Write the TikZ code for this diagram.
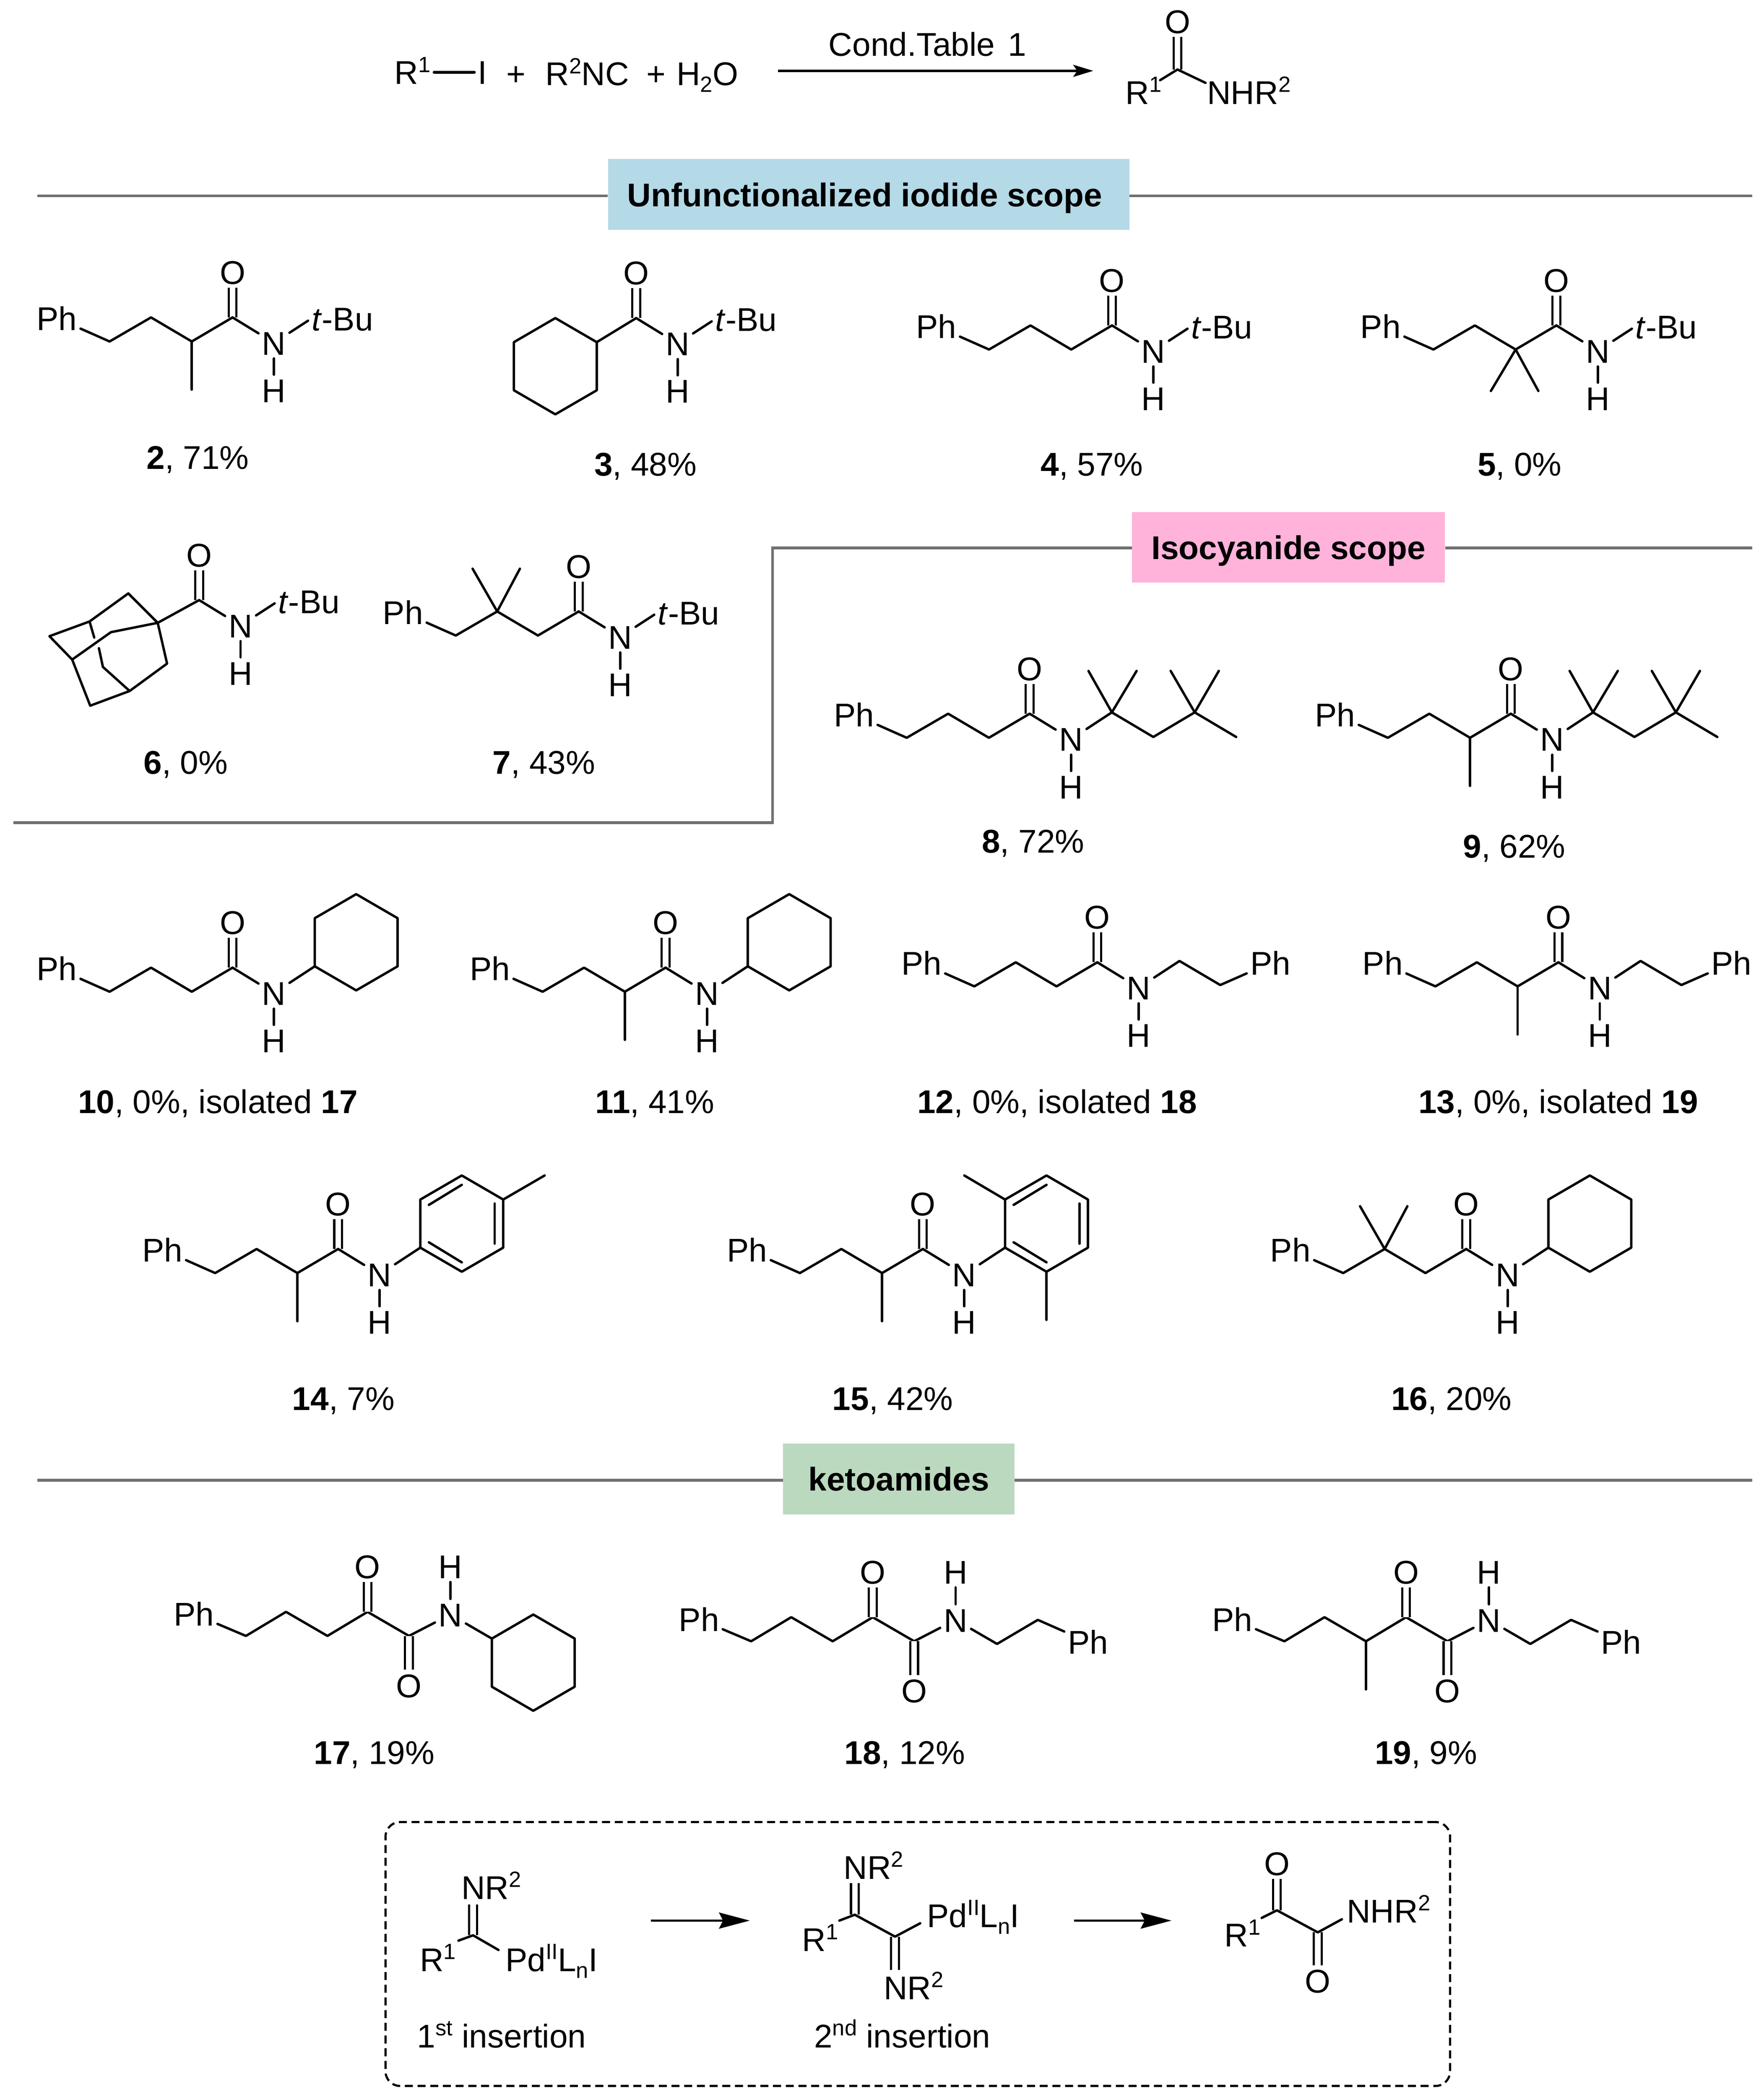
\documentclass[tikz,border=0pt]{standalone}
\usepackage{fontspec}
\setmainfont{Liberation Sans}
\usetikzlibrary{arrows.meta}
\newcommand\sups[1]{\raisebox{9pt}{\fontsize{16.5}{16.5}\selectfont #1}}
\newcommand\subs[1]{\raisebox{-5pt}{\fontsize{16.5}{16.5}\selectfont #1}}
\tikzset{
  txt/.style={font=\fontsize{24.6}{30}\selectfont,text=black},
  atom/.style={txt,inner sep=2.5pt,text height=18pt,text depth=0pt},
  lbl/.style={atom,anchor=west,xshift=-2.5pt},
  capt/.style={txt,inner sep=0pt,text height=18pt,text depth=0pt},
  bond/.style={draw=black,line width=1.8pt,line cap=round,line join=round},
  dbl/.style={draw=black,double=white,double distance=4.2pt,line width=1.6pt},
  rulel/.style={draw=rulegray,line width=2pt,line join=miter},
  headt/.style={txt,font=\fontsize{24.6}{30}\selectfont\bfseries,inner sep=0pt,text height=18pt,text depth=0pt},
  rxn/.style={draw=black,line width=1.8pt,-{Stealth[length=15pt,width=9pt,inset=3pt]}},
  rxnb/.style={draw=black,line width=1.8pt,-{Stealth[length=23pt,width=12pt,inset=3pt]}}
}
\definecolor{rulegray}{HTML}{707070}
\definecolor{hblue}{HTML}{B4D9E7}
\definecolor{hpink}{HTML}{FFB3DA}
\definecolor{hgreen}{HTML}{BBD9BF}
\newcommand\atm[3]{\node[atom] (#1) at (#2) {#3};}
\newcommand\amidecore{%
  \coordinate (co) at (0,0);
  \atm{O}{0,-34}{O}\atm{N}{31,19}{N}\atm{H}{31,54.5}{H}
  \draw[dbl] (co)--(O);
  \draw[bond] (co)--(N);
  \draw[bond] (N)--(H);}
\newcommand\phchain{%
  \atm{Ph}{-131.5,0.5}{Ph}
  \coordinate (c1) at (-92,18);\coordinate (c2) at (-61,0);\coordinate (c3) at (-30.5,18);
  \draw[bond] (Ph)--(c1)--(c2)--(c3)--(co);}
\newcommand\alphame{\coordinate (me) at (-30.5,54);\draw[bond] (c3)--(me);}
\newcommand\tbu{%
  \node[atom,anchor=west,inner sep=0pt] (tb) at (59,0.8) {\textit{t}-Bu};
  \draw[bond,shorten >=3pt] (N)--(tb.west);}
\newcommand\octyl{%
  \coordinate (q1) at (61.5,-1);\coordinate (m1) at (44,-32);\coordinate (m2) at (80,-32);
  \coordinate (ch) at (92.5,17.4);\coordinate (q2) at (123.5,-1);
  \coordinate (m3) at (105.5,-32);\coordinate (m4) at (141.5,-32);\coordinate (m5) at (154.5,17.4);
  \draw[bond] (N)--(q1)--(ch)--(q2)--(m5);
  \draw[bond] (m1)--(q1)--(m2);
  \draw[bond] (m3)--(q2)--(m4);}
\newcommand\hexring[2]{%
  \coordinate (r1) at (#1,#2-36);\coordinate (r2) at (#1+31,#2-18);\coordinate (r3) at (#1+31,#2+18);
  \coordinate (r4) at (#1,#2+36);\coordinate (r5) at (#1-31,#2+18);\coordinate (r6) at (#1-31,#2-18);
  \draw[bond] (r1)--(r2)--(r3)--(r4)--(r5)--(r6)--cycle;}
\newcommand\aroinner[2]{%
  \coordinate (i1) at (#1-24.6,#2-14);\coordinate (i2) at (#1,#2-29);
  \coordinate (i3) at (#1+24.6,#2-15);\coordinate (i4) at (#1+24.6,#2+15);
  \coordinate (i5) at (#1-24.6,#2+14);\coordinate (i6) at (#1,#2+29);
  \draw[bond] (i1)--(i2);\draw[bond] (i3)--(i4);\draw[bond] (i5)--(i6);}
\newcommand\phenethyl[3]{% x and y of N-bound CH2, then direction of the next step
  \coordinate (e1) at (#1,#2);\coordinate (e2) at (#1+30.5,#2+#3*18);
  \atm{Ph2}{#1+68,#2+#3*1.5}{Ph}
  \draw[bond] (N)--(e1)--(e2)--(Ph2);}
\newcommand\ketocore{%
  \coordinate (ck) at (0,0);\coordinate (ca) at (31,18);
  \atm{O}{0,-34}{O}\atm{O2}{31,55}{O}\atm{N}{62,2}{N}\atm{H}{62,-34}{H}
  \atm{Ph}{-130,1.5}{Ph}
  \coordinate (c1) at (-91,18);\coordinate (c2) at (-61,0);\coordinate (c3) at (-30,18);
  \draw[bond] (Ph)--(c1)--(c2)--(c3)--(ck)--(ca)--(N);
  \draw[dbl] (ck)--(O);\draw[dbl] (ca)--(O2);
  \draw[bond] (N)--(H);}
\begin{document}
\begin{tikzpicture}[x=1pt,y=-1pt]
\useasboundingbox (0,0) rectangle (1319.7,1569);

% top reaction
\node[lbl] (R1) at (295,54) {R\sups{1}};
\atm{I1}{361,54}{I}
\draw[bond,line width=2.2pt] (R1)--(I1);
\node[capt] (plusa) at (386,55) {+};
\node[lbl] (R2NC) at (408,55) {R\sups{2}NC};
\node[capt] (plusb) at (491,55) {+};
\node[lbl] (H2O) at (506,55) {H\subs{2}O};
\coordinate (ars) at (582,53);\coordinate (are) at (818,53);
\draw[rxn] (ars)--(are);
\node[capt] (cond) at (694,33) {Cond.Table\hspace{3pt} 1};
\coordinate (pc) at (881,52);
\atm{pO}{881,16}{O}
\node[lbl] (pR) at (842,69) {R\sups{1}};
\node[lbl] (pN) at (903,69) {NHR\sups{2}};
\draw[dbl] (pc)--(pO);
\coordinate (pre) at (868,60);
\coordinate (pne) at (902,62);
\draw[bond] (pre)--(pc)--(pne);

% section headers
\node[fill=hblue,minimum width=390pt,minimum height=53pt,inner sep=0pt] (boxa) at (650,145.5) {};
\node[headt] (heada) at (647,145.5) {Unfunctionalized iodide scope};
\coordinate (la) at (28,146.5);\coordinate (lb) at (1311,146.5);
\draw[rulel] (la)--(boxa.west |- la);
\draw[rulel] (boxa.east |- lb)--(lb);

\node[fill=hpink,minimum width=234pt,minimum height=53pt,inner sep=0pt] (boxb) at (964,409.5) {};
\node[headt] (headb) at (964,409.5) {Isocyanide scope};
\coordinate (lc) at (1311,410);\coordinate (ld) at (578,410);\coordinate (le) at (578,615.5);\coordinate (lf) at (10,615.5);
\draw[rulel] (lc)--(boxb.east |- lc);
\draw[rulel] (boxb.west |- ld)--(ld)--(le)--(lf);

\node[fill=hgreen,minimum width=173pt,minimum height=53pt,inner sep=0pt] (boxc) at (672.5,1106.5) {};
\node[headt] (headc) at (672.5,1106.5) {ketoamides};
\coordinate (lg) at (28,1107.5);\coordinate (lh) at (1311,1107.5);
\draw[rulel] (lg)--(boxc.west |- lg);
\draw[rulel] (boxc.east |- lh)--(lh);

% 2
\begin{scope}[shift={(174,237.5)},name prefix=a2-]
\amidecore\phchain\alphame\tbu
\end{scope}
\node[capt] (cap2) at (148,342) {\textbf{2}, 71\%};
% 3
\begin{scope}[shift={(476,238)},name prefix=a3-]
\amidecore\tbu\hexring{-60.5}{36}
\draw[bond] (r2)--(co);
\end{scope}
\node[capt] (cap3) at (483,347) {\textbf{3}, 48\%};
% 4
\begin{scope}[shift={(832,243.5)},name prefix=a4-]
\amidecore\phchain\tbu
\end{scope}
\node[capt] (cap4) at (817,347) {\textbf{4}, 57\%};
% 5
\begin{scope}[shift={(1164.5,243.5)},name prefix=a5-]
\amidecore\phchain\tbu
\coordinate (m1) at (-49,49);\coordinate (m2) at (-13.5,49);
\draw[bond] (m1)--(c3)--(m2);
\end{scope}
\node[capt] (cap5) at (1137,347) {\textbf{5}, 0\%};
% 6
\begin{scope}[shift={(149,449)},name prefix=a6-]
\amidecore\tbu
\end{scope}
\begin{scope}[name prefix=ad-]
\coordinate (a) at (118,466);\coordinate (b) at (96,444);\coordinate (c) at (67,465);
\coordinate (d) at (37,476);\coordinate (e) at (54,493.5);\coordinate (f) at (83,473);
\coordinate (g) at (125,496.5);\coordinate (h) at (97,517);\coordinate (i) at (67.5,528);
\coordinate (j) at (77,499);\coordinate (k) at (74,485);\coordinate (l) at (70.5,477);
\draw[bond] (a)--(b)--(c)--(d)--(e)--(f)--(a)--(g)--(h)--(i)--(e);
\draw[bond] (h)--(j)--(k);
\draw[bond] (c)--(l);
\end{scope}
\draw[bond] (ad-a)--(a6-co);
\node[capt] (cap6) at (139,570) {\textbf{6}, 0\%};
% 7
\begin{scope}[shift={(433,457.5)},name prefix=a7-]
\amidecore\phchain\tbu
\coordinate (m1) at (-79.4,-32);\coordinate (m2) at (-44,-32);
\draw[bond] (m1)--(c2)--(m2);
\end{scope}
\node[capt] (cap7) at (407,570) {\textbf{7}, 43\%};
% 8
\begin{scope}[shift={(770.4,534)},name prefix=a8-]
\amidecore\phchain\octyl
\end{scope}
\node[capt] (cap8) at (773,629) {\textbf{8}, 72\%};
% 9
\begin{scope}[shift={(1130.4,534)},name prefix=a9-]
\amidecore\phchain\alphame\octyl
\end{scope}
\node[capt] (cap9) at (1133,633) {\textbf{9}, 62\%};
% 10
\begin{scope}[shift={(174,724)},name prefix=a10-]
\amidecore\phchain\hexring{92.5}{-19}
\draw[bond] (N)--(r5);
\end{scope}
\node[capt] (cap10) at (163,824) {\textbf{10}, 0\%, isolated \textbf{17}};
% 11
\begin{scope}[shift={(498,724)},name prefix=a11-]
\amidecore\phchain\alphame\hexring{92.5}{-19}
\draw[bond] (N)--(r5);
\end{scope}
\node[capt] (cap11) at (490,824) {\textbf{11}, 41\%};
% 12
\begin{scope}[shift={(821,720)},name prefix=a12-]
\amidecore\phchain\phenethyl{61.5}{-1}{1}
\end{scope}
\node[capt] (cap12) at (791,824) {\textbf{12}, 0\%, isolated \textbf{18}};
% 13
\begin{scope}[shift={(1166,720)},name prefix=a13-]
\amidecore\phchain\alphame\phenethyl{61.5}{-1}{1}
\end{scope}
\node[capt] (cap13) at (1166,824) {\textbf{13}, 0\%, isolated \textbf{19}};
% 14
\begin{scope}[shift={(253,934.5)},name prefix=a14-]
\amidecore\phchain\alphame\hexring{92.5}{-19}\aroinner{92.5}{-19}
\draw[bond] (N)--(r5);
\coordinate (m1) at (154.5,-55);
\draw[bond] (r2)--(m1);
\end{scope}
\node[capt] (cap14) at (257,1046) {\textbf{14}, 7\%};
% 15
\begin{scope}[shift={(690.5,934.5)},name prefix=a15-]
\amidecore\phchain\alphame\hexring{92.5}{-19}\aroinner{92.5}{-19}
\draw[bond] (N)--(r5);
\coordinate (m1) at (31,-55);\coordinate (m2) at (92.5,53);
\draw[bond] (r6)--(m1);
\draw[bond] (r4)--(m2);
\end{scope}
\node[capt] (cap15) at (668,1046) {\textbf{15}, 42\%};
% 16
\begin{scope}[shift={(1097,934.5)},name prefix=a16-]
\amidecore\phchain\hexring{92.5}{-19}
\draw[bond] (N)--(r5);
\coordinate (m1) at (-79.4,-32);\coordinate (m2) at (-44,-32);
\draw[bond] (m1)--(c2)--(m2);
\end{scope}
\node[capt] (cap16) at (1086,1046) {\textbf{16}, 20\%};
% 17
\begin{scope}[shift={(275,1206)},name prefix=a17-]
\ketocore\hexring{124}{38}
\draw[bond] (N)--(r6);
\end{scope}
\node[capt] (cap17) at (280,1311) {\textbf{17}, 19\%};
% 18
\begin{scope}[shift={(653,1210)},name prefix=a18-]
\ketocore\phenethyl{93}{20}{-1}
\end{scope}
\node[capt] (cap18) at (677,1311) {\textbf{18}, 12\%};
% 19
\begin{scope}[shift={(1052,1210)},name prefix=a19-]
\ketocore\phenethyl{93}{20}{-1}
\coordinate (me) at (-30,54);
\draw[bond] (c3)--(me);
\end{scope}
\node[capt] (cap19) at (1067,1311) {\textbf{19}, 9\%};

% dashed box
\node[draw=black,line width=1.6pt,rounded corners=11pt,dash pattern=on 6pt off 3.5pt,minimum width=796.5pt,minimum height=197.5pt,inner sep=0pt] (dbox) at (686.7,1462) {};

% intermediate 1
\coordinate (ic) at (354,1448);
\coordinate (ic1) at (354,1425);
\coordinate (ic2) at (343,1452);
\coordinate (ic3) at (373,1459);
\node[lbl] (iN) at (345,1412) {NR\sups{2}};
\node[lbl] (iR) at (314,1466) {R\sups{1}};
\node[lbl] (iP) at (378,1466) {Pd\sups{II}L\subs{n}I};
\draw[dbl] (ic)--(ic1);
\draw[bond] (ic2)--(ic)--(ic3);
\node[capt,anchor=west] (ins1) at (312,1523) {1\sups{st} insertion};
\coordinate (ar1s) at (487,1437);\coordinate (ar1e) at (561,1437);
\draw[rxnb] (ar1s)--(ar1e);

% intermediate 2
\coordinate (jc) at (639.6,1432.6);\coordinate (jd) at (669.7,1449);
\coordinate (jc1) at (639.6,1409);\coordinate (jd1) at (669.7,1474);
\coordinate (jr) at (628,1437);\coordinate (jp) at (688.5,1439);
\node[lbl] (jN) at (631,1397) {NR\sups{2}};
\node[lbl] (jR) at (600,1451) {R\sups{1}};
\node[lbl] (jP) at (693.5,1433) {Pd\sups{II}L\subs{n}I};
\node[lbl] (jM) at (661,1487) {NR\sups{2}};
\draw[dbl] (jc)--(jc1);
\draw[dbl] (jd)--(jd1);
\draw[bond] (jr)--(jc)--(jd)--(jp);
\node[capt,anchor=west] (ins2) at (609,1523) {2\sups{nd} insertion};
\coordinate (ar2s) at (803.5,1437);\coordinate (ar2e) at (876.5,1437);
\draw[rxnb] (ar2s)--(ar2e);

% product
\coordinate (kc) at (955.4,1429.3);\coordinate (kd) at (986,1445.8);
\atm{kO}{955.4,1394}{O}
\atm{kP}{986,1482}{O}
\node[lbl] (kR) at (916,1447.6) {R\sups{1}};
\node[lbl] (kN) at (1007.5,1429.5) {NHR\sups{2}};
\coordinate (kre) at (944,1435);\coordinate (kne) at (1004,1436);
\draw[dbl] (kc)--(kO);
\draw[dbl] (kd)--(kP);
\draw[bond] (kre)--(kc)--(kd)--(kne);
\end{tikzpicture}
\end{document}
